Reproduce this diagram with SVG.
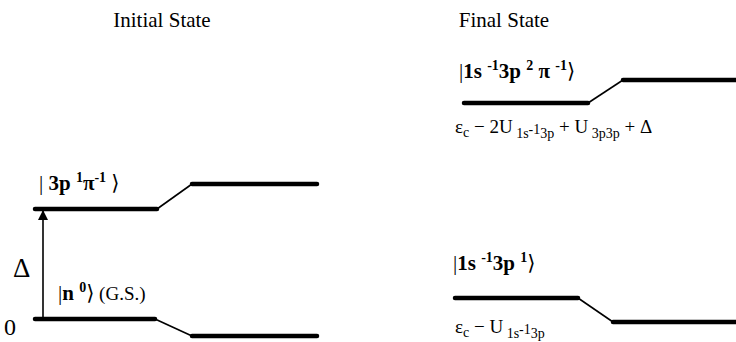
<svg xmlns="http://www.w3.org/2000/svg" width="736" height="342" viewBox="0 0 736 342">
<style>
text{font-family:"Liberation Serif","Times New Roman","DejaVu Serif",serif;fill:#000}
.title{font-size:21px}
.ket{font-size:21px;font-weight:bold}
.bar{font-weight:normal}
.sup{font-size:14px}
.en{font-size:19px}
.sub{font-size:14px}
.lvl{stroke:#000;stroke-width:4.5;fill:none;stroke-linecap:round}
.con{stroke:#000;stroke-width:1.6;fill:none}
</style>
<defs>
<marker id="ah" viewBox="0 0 10 10" refX="9" refY="5" markerWidth="10" markerHeight="10" orient="auto" markerUnits="userSpaceOnUse">
<path d="M0,0 L10,5 L0,10 Z" fill="#000"/>
</marker>
</defs>
<g id="title-initial"><text class="title" x="162" y="27" text-anchor="middle">Initial State</text></g>
<g id="title-final"><text class="title" x="504" y="27" text-anchor="middle">Final State</text></g>

<g id="initial-excited">
<line class="lvl" x1="35" y1="209" x2="157" y2="209"/>
<text class="ket" x="39" y="190"><tspan class="bar">|</tspan> 3p <tspan class="sup" dy="-8">1</tspan><tspan dy="8">π</tspan><tspan class="sup" dy="-8">-1</tspan><tspan class="bar" dy="8"> ⟩</tspan></text>
</g>
<g id="initial-excited-right"><line class="lvl" x1="192" y1="184" x2="317" y2="184"/></g>

<g id="initial-ground">
<line class="lvl" x1="35" y1="319" x2="155" y2="319"/>
<text class="ket" x="58" y="300"><tspan class="bar">|</tspan>n <tspan class="sup" dy="-8">0</tspan><tspan class="bar" dy="8">⟩</tspan><tspan font-weight="normal" font-size="19"> (G.S.)</tspan></text>
<text x="4" y="335" font-size="24">0</text>
</g>
<g id="initial-ground-right"><line class="lvl" x1="192" y1="336" x2="317" y2="336"/></g>

<g id="delta-label"><text x="13" y="277" font-size="27">Δ</text></g>

<g id="final-upper">
<line class="lvl" x1="464" y1="103" x2="588" y2="103"/>
<text class="ket" x="459" y="78"><tspan class="bar">|</tspan>1s <tspan class="sup" dy="-8">-1</tspan><tspan dy="8">3p </tspan><tspan class="sup" dy="-8">2</tspan><tspan dy="8"> π </tspan><tspan class="sup" dy="-8">-1</tspan><tspan class="bar" dy="8">⟩</tspan></text>
<text class="en" x="455" y="133">ε<tspan class="sub" dy="4">c</tspan><tspan dy="-4"> − 2U</tspan><tspan class="sub" dy="5"> 1s</tspan><tspan class="sup" font-size="11" dy="-4">-1</tspan><tspan class="sub" dy="4">3p</tspan><tspan dy="-5"> + U</tspan><tspan class="sub" dy="5"> 3p3p</tspan><tspan dy="-5"> + Δ</tspan></text>
</g>
<g id="final-upper-right"><line class="lvl" x1="623" y1="80" x2="736" y2="80"/></g>

<g id="final-lower">
<line class="lvl" x1="455" y1="298" x2="578" y2="298"/>
<text class="ket" x="453" y="270"><tspan class="bar">|</tspan>1s <tspan class="sup" dy="-8">-1</tspan><tspan dy="8">3p </tspan><tspan class="sup" dy="-8">1</tspan><tspan class="bar" dy="8">⟩</tspan></text>
<text class="en" x="455" y="333">ε<tspan class="sub" dy="4">c</tspan><tspan dy="-4"> − U</tspan><tspan class="sub" dy="5"> 1s</tspan><tspan class="sup" font-size="11" dy="-4">-1</tspan><tspan class="sub" dy="4">3p</tspan></text>
</g>
<g id="final-lower-right"><line class="lvl" x1="613" y1="322" x2="736" y2="322"/></g>

<g id="connectors">
<line class="con" x1="157" y1="209" x2="192" y2="184"/>
<line class="con" x1="155" y1="319" x2="192" y2="336"/>
<line class="con" x1="588" y1="103" x2="623" y2="80"/>
<line class="con" x1="578" y1="298" x2="613" y2="322"/>
<line class="con" x1="43" y1="319" x2="43" y2="211" marker-end="url(#ah)"/>
</g>
</svg>
